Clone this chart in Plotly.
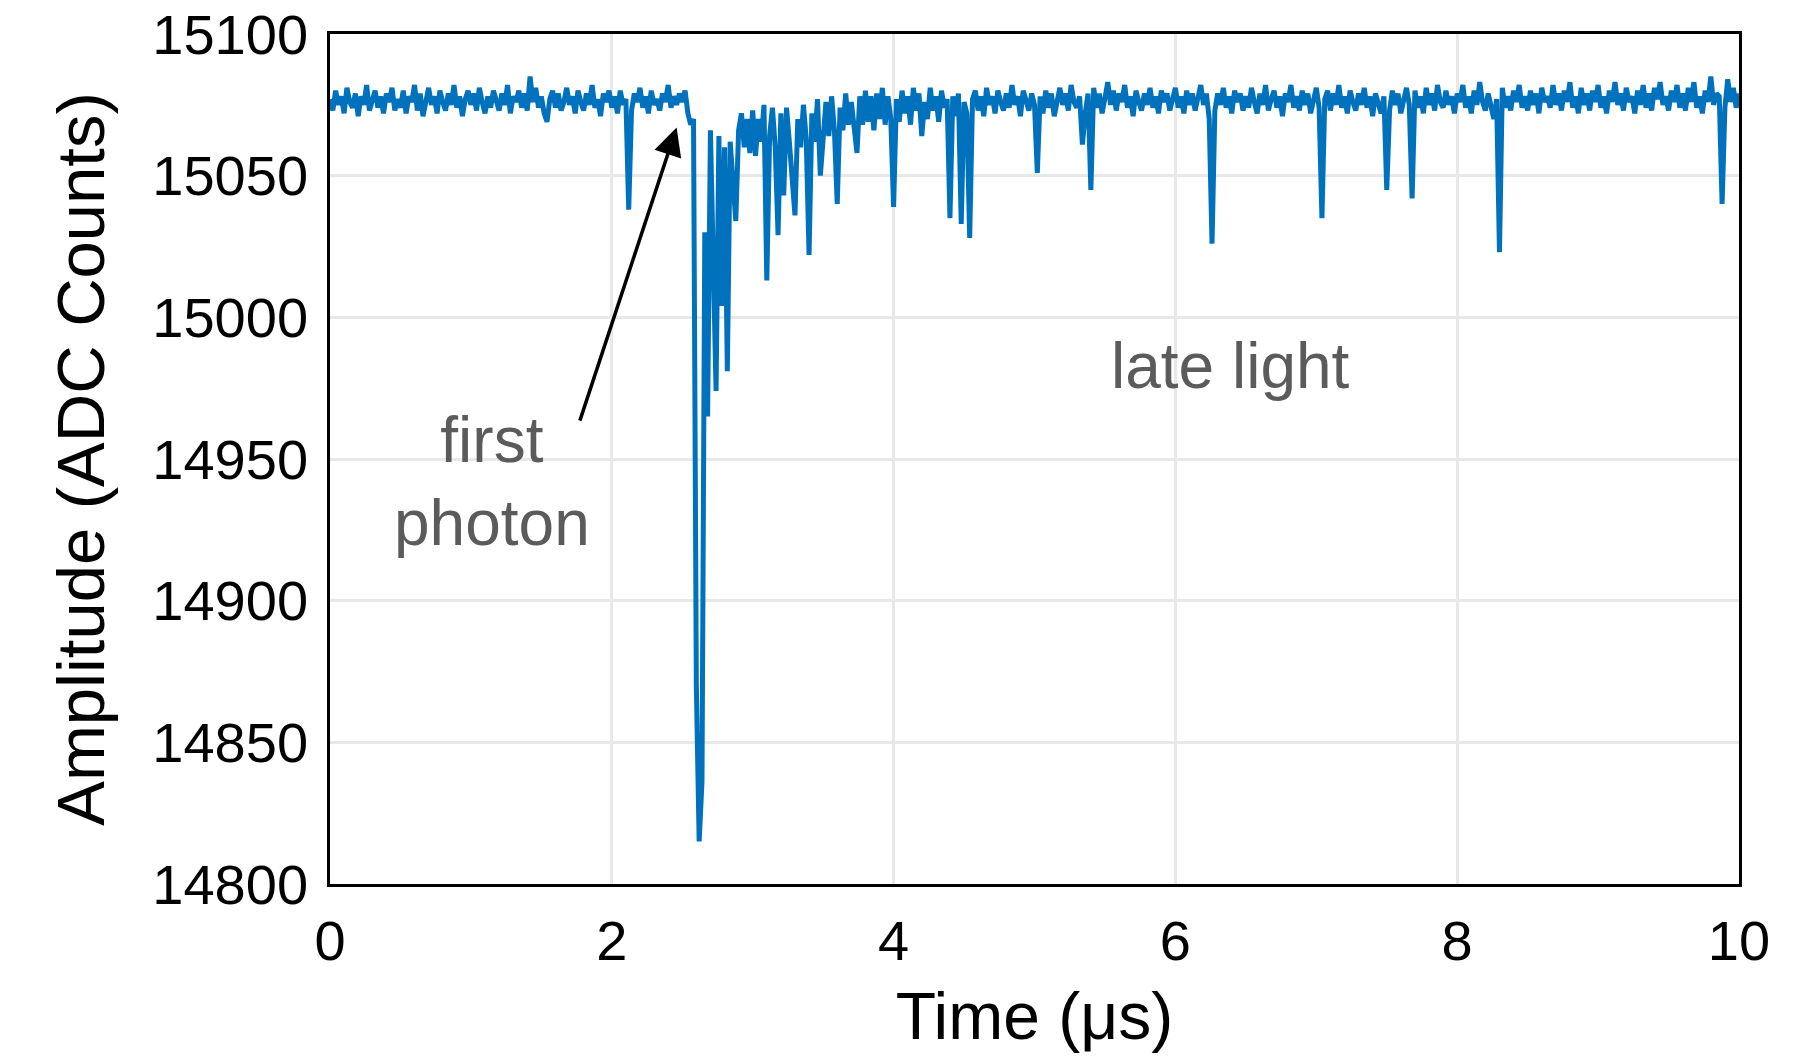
import numpy as np
import plotly.graph_objects as go

# sampling interval of the waveform (microseconds)
SAMPLE_DT_US = 0.02

# ADC amplitude samples, one row per 0.5 us
amplitude_counts = [
    # 0.0 - 0.48 us
    15077, 15073, 15080, 15075, 15078, 15072, 15081, 15076, 15074, 15079, 15071, 15078, 15075,
    15082, 15073, 15077, 15080, 15074, 15078, 15072, 15079, 15076, 15081, 15073, 15077,
    # 0.5 - 0.98 us
    15074, 15080, 15072, 15078, 15076, 15082, 15073, 15079, 15071, 15077, 15081, 15075, 15078,
    15072, 15080, 15076, 15073, 15079, 15075, 15082, 15074, 15078, 15071, 15077, 15080,
    # 1.0 - 1.48 us
    15075, 15079, 15073, 15081, 15076, 15072, 15078, 15074, 15080, 15077, 15073, 15079, 15075,
    15082, 15072, 15078, 15076, 15080, 15074, 15079, 15073, 15085, 15076, 15081, 15074,
    # 1.5 - 1.98 us
    15078, 15072, 15069, 15077, 15080, 15074, 15079, 15073, 15076, 15081, 15075, 15078, 15072,
    15080, 15076, 15073, 15079, 15075, 15082, 15074, 15077, 15071, 15079, 15076, 15080,
    # 2.0 - 2.48 us
    15074, 15078, 15072, 15080, 15075, 15077, 15038, 15073, 15079, 15076, 15081, 15074, 15078,
    15072, 15080, 15075, 15077, 15073, 15079, 15076, 15082, 15074, 15078, 15075, 15079,
    # 2.5 - 2.98 us (first photon and prompt light)
    15076, 15080, 15072, 15068, 15070, 14870, 14815, 14836, 15030, 14965, 15066, 15010, 14974,
    15064, 15004, 15060, 14981, 15062, 15050, 15034, 15066, 15072, 15060, 15070, 15058,
    # 3.0 - 3.48 us
    15073, 15057, 15070, 15062, 15075, 15013, 15064, 15074, 15060, 15029, 15072, 15043, 15074,
    15062, 15048, 15036, 15070, 15060, 15075, 15063, 15022, 15072, 15062, 15077, 15050,
    # 3.5 - 3.98 us
    15066, 15076, 15064, 15078, 15066, 15040, 15074, 15066, 15079, 15068, 15076, 15065, 15058,
    15078, 15068, 15080, 15069, 15078, 15066, 15079, 15070, 15081, 15068, 15078, 15070,
    # 4.0 - 4.48 us
    15039, 15077, 15069, 15080, 15072, 15078, 15068, 15081, 15073, 15079, 15064, 15076, 15070,
    15081, 15073, 15078, 15069, 15080, 15074, 15077, 15035, 15078, 15071, 15079, 15033,
    # 4.5 - 4.98 us
    15076, 15072, 15028, 15077, 15080, 15073, 15078, 15071, 15081, 15075, 15078, 15072, 15080,
    15076, 15073, 15079, 15074, 15082, 15075, 15078, 15071, 15080, 15076, 15073, 15079,
    # 5.0 - 5.48 us
    15075, 15051, 15078, 15072, 15080, 15074, 15079, 15071, 15077, 15081, 15075, 15079, 15073,
    15082, 15076, 15074, 15078, 15061, 15072, 15079, 15045, 15081, 15074, 15079, 15072,
    # 5.5 - 5.98 us
    15078, 15083, 15075, 15080, 15073, 15079, 15076, 15082, 15074, 15078, 15071, 15080, 15076,
    15073, 15079, 15075, 15081, 15074, 15078, 15072, 15080, 15076, 15079, 15073, 15077,
    # 6.0 - 6.48 us
    15081, 15074, 15078, 15072, 15080, 15075, 15079, 15073, 15077, 15082, 15075, 15079, 15070,
    15026, 15073, 15079, 15075, 15081, 15074, 15078, 15072, 15080, 15076, 15079, 15073,
    # 6.5 - 6.98 us
    15078, 15074, 15081, 15076, 15072, 15079, 15075, 15082, 15073, 15077, 15080, 15074, 15078,
    15071, 15079, 15076, 15082, 15074, 15078, 15073, 15080, 15075, 15079, 15072, 15077,
    # 7.0 - 7.48 us
    15081, 15074, 15035, 15077, 15080, 15073, 15079, 15075, 15082, 15074, 15078, 15072, 15080,
    15076, 15073, 15079, 15075, 15081, 15074, 15078, 15071, 15079, 15076, 15072, 15078,
    # 7.5 - 7.98 us
    15045, 15073, 15080, 15075, 15079, 15072, 15077, 15081, 15075, 15042, 15080, 15074, 15078,
    15072, 15081, 15075, 15079, 15073, 15082, 15076, 15074, 15080, 15075, 15078, 15072,
    # 8.0 - 8.48 us
    15079, 15076, 15082, 15074, 15078, 15072, 15080, 15075, 15083, 15076, 15073, 15079, 15075,
    15070, 15077, 15023, 15081, 15074, 15078, 15073, 15080, 15076, 15082, 15074, 15078,
    # 8.5 - 8.98 us
    15073, 15080, 15075, 15079, 15072, 15081, 15076, 15078, 15074, 15082, 15075, 15079, 15073,
    15080, 15076, 15083, 15074, 15078, 15072, 15081, 15075, 15079, 15073, 15080, 15076,
    # 9.0 - 9.48 us
    15082, 15074, 15078, 15072, 15080, 15076, 15083, 15075, 15079, 15073, 15081, 15076, 15078,
    15072, 15080, 15075, 15082, 15074, 15079, 15073, 15081, 15077, 15083, 15075, 15078,
    # 9.5 - 10.0 us
    15073, 15080, 15076, 15082, 15074, 15079, 15073, 15081, 15076, 15083, 15074, 15078, 15072,
    15080, 15076, 15085, 15075, 15079, 15078, 15040, 15074, 15084, 15076, 15081, 15074,
    15079,
]

x_tick_values = [0, 2, 4, 6, 8, 10]
y_tick_values = [14800, 14850, 14900, 14950, 15000, 15050, 15100]

x_title = "Time (μs)"
y_title = "Amplitude (ADC Counts)"

label_late = "late light"
label_first = "first<br>photon"
# annotation anchor points (data coordinates)
late_pos = (6.39, 14983)
first_pos = (1.15, 14942)
arrow_tip = (2.46, 15067)
arrow_tail = (1.77, 14963)

time_us = np.arange(len(amplitude_counts)) * SAMPLE_DT_US

FONT = "Liberation Sans, Arial, Helvetica, sans-serif"
GRID = "#e8e8e8"
TEXT_GRAY = "#5b5b5b"

fig = go.Figure()
fig.add_trace(go.Scatter(
    x=time_us, y=amplitude_counts, mode="lines",
    line=dict(color="#0072BD", width=5),
    showlegend=False, hoverinfo="skip",
))

fig.add_annotation(x=late_pos[0], y=late_pos[1], xref="x", yref="y",
                   text=label_late, showarrow=False,
                   font=dict(family=FONT, size=64, color=TEXT_GRAY))
fig.add_annotation(x=first_pos[0], y=first_pos[1], xref="x", yref="y",
                   text=label_first, showarrow=False,
                   font=dict(family=FONT, size=64, color=TEXT_GRAY))
fig.add_annotation(x=arrow_tip[0], y=arrow_tip[1], xref="x", yref="y",
                   ax=arrow_tail[0], ay=arrow_tail[1], axref="x", ayref="y",
                   text="", showarrow=True, arrowhead=2, arrowsize=1.6,
                   arrowwidth=3.5, arrowcolor="black", standoff=0, startstandoff=0)

fig.update_layout(
    width=1795, height=1057,
    margin=dict(l=330, r=56, t=34, b=173, autoexpand=False),
    paper_bgcolor="white", plot_bgcolor="white",
    font=dict(family=FONT, color="black"),
    xaxis=dict(
        range=[0, 10], tickvals=x_tick_values, automargin=False,
        showgrid=True, gridcolor=GRID, gridwidth=2.5, zeroline=False,
        showline=True, linecolor="black", linewidth=2.5, mirror=True,
        ticks="", tickfont=dict(size=56, family=FONT, color="black"),
        ticklabelstandoff=6,
        title=dict(text=x_title, font=dict(size=66, family=FONT, color="black"), standoff=22),
    ),
    yaxis=dict(
        range=[14800, 15100], tickvals=y_tick_values, tickformat="d", automargin=False,
        showgrid=True, gridcolor=GRID, gridwidth=2.5, zeroline=False,
        showline=True, linecolor="black", linewidth=2.5, mirror=True,
        ticks="", tickfont=dict(size=56, family=FONT, color="black"),
        ticklabelstandoff=8,
        title=dict(text=y_title, font=dict(size=67, family=FONT, color="black"), standoff=26),
    ),
)

fig.write_html("out.html", config={"displayModeBar": False},
               post_script="document.body.style.margin='0';")
